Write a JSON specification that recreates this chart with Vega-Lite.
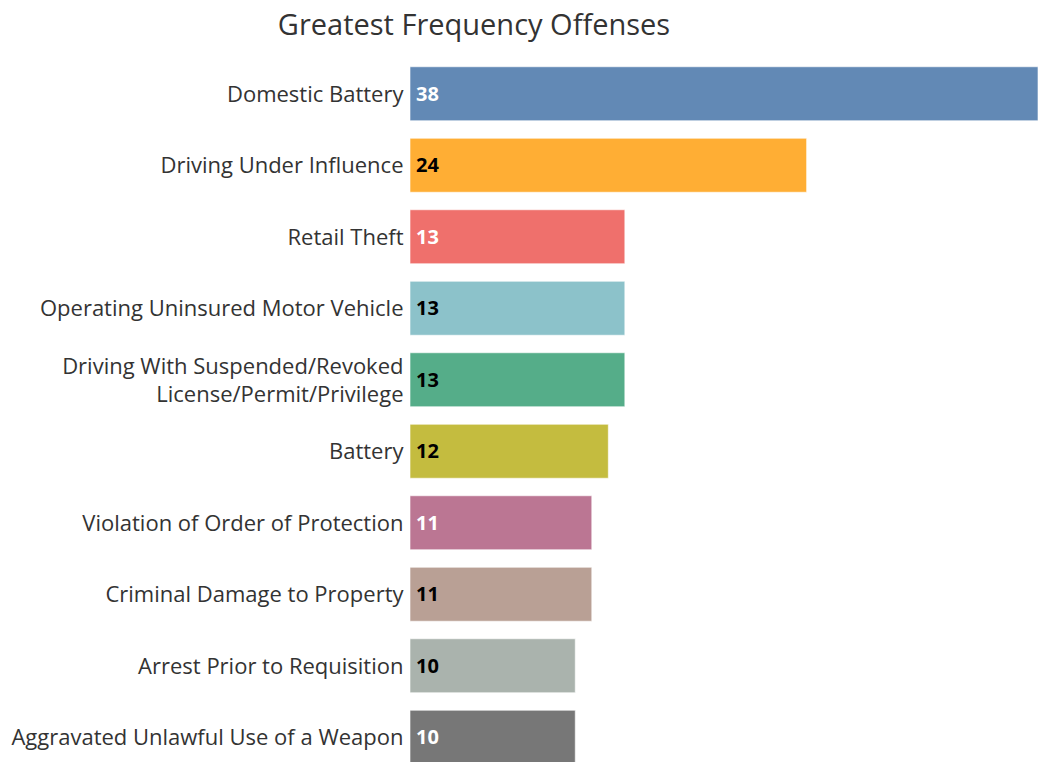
{
  "$schema": "https://vega.github.io/schema/vega-lite/v6.json",
  "autosize": {"type": "none"},
  "padding": {"left": 410, "top": 58, "right": 9, "bottom": 0},
  "width": 628,
  "height": 715,
  "background": "white",
  "title": {
    "text": "Greatest Frequency Offenses",
    "anchor": "middle",
    "dx": -250,
    "offset": 17,
    "font": "Open Sans",
    "fontSize": 29,
    "fontWeight": "normal",
    "color": "#333333"
  },
  "config": {"view": {"stroke": null}},
  "data": {
    "values": [
      {"offense": "Domestic Battery", "count": 38},
      {"offense": "Driving Under Influence", "count": 24},
      {"offense": "Retail Theft", "count": 13},
      {"offense": "Operating Uninsured Motor Vehicle", "count": 13},
      {"offense": "Driving With Suspended/Revoked License/Permit/Privilege", "count": 13},
      {"offense": "Battery", "count": 12},
      {"offense": "Violation of Order of Protection", "count": 11},
      {"offense": "Criminal Damage to Property", "count": 11},
      {"offense": "Arrest Prior to Requisition", "count": 10},
      {"offense": "Aggravated Unlawful Use of a Weapon", "count": 10}
    ]
  },
  "encoding": {
    "y": {
      "field": "offense",
      "type": "nominal",
      "sort": null,
      "scale": {"paddingInner": 0.245, "paddingOuter": 0.1225},
      "axis": {
        "title": null,
        "domain": false,
        "ticks": false,
        "labelPadding": 7,
        "labelFont": "Open Sans",
        "labelFontSize": 22,
        "labelColor": "#333333",
        "labelLimit": 500,
        "labelLineHeight": 28,
        "labelOffset": {
          "condition": {"test": "datum.value == 'Driving With Suspended/Revoked License/Permit/Privilege'", "value": -13},
          "value": 1
        },
        "labelExpr": "datum.value == 'Driving With Suspended/Revoked License/Permit/Privilege' ? ['Driving With Suspended/Revoked', 'License/Permit/Privilege'] : datum.value"
      }
    }
  },
  "layer": [
    {
      "mark": {"type": "bar", "stroke": "#ffffff", "strokeOpacity": 0.6, "strokeWidth": 1},
      "encoding": {
        "x": {"field": "count", "type": "quantitative", "scale": {"domain": [0, 38], "nice": false}, "axis": null},
        "color": {
          "field": "offense",
          "type": "nominal",
          "legend": null,
          "scale": {
            "domain": ["Domestic Battery", "Driving Under Influence", "Retail Theft", "Operating Uninsured Motor Vehicle", "Driving With Suspended/Revoked License/Permit/Privilege", "Battery", "Violation of Order of Protection", "Criminal Damage to Property", "Arrest Prior to Requisition", "Aggravated Unlawful Use of a Weapon"],
            "range": ["#6289b5", "#ffae34", "#ef706c", "#8cc2ca", "#55ad89", "#c4bc3f", "#bb7693", "#b9a095", "#aab3ad", "#777777"]
          }
        }
      }
    },
    {
      "mark": {"type": "text", "align": "left", "baseline": "middle", "dx": 6, "dy": 1, "font": "Open Sans", "fontSize": 20, "fontWeight": "bold"},
      "encoding": {
        "x": {"datum": 0, "type": "quantitative"},
        "text": {"field": "count", "type": "quantitative"},
        "color": {
          "field": "offense",
          "type": "nominal",
          "legend": null,
          "scale": {
            "domain": ["Domestic Battery", "Driving Under Influence", "Retail Theft", "Operating Uninsured Motor Vehicle", "Driving With Suspended/Revoked License/Permit/Privilege", "Battery", "Violation of Order of Protection", "Criminal Damage to Property", "Arrest Prior to Requisition", "Aggravated Unlawful Use of a Weapon"],
            "range": ["#ffffff", "#000000", "#ffffff", "#000000", "#000000", "#000000", "#ffffff", "#000000", "#000000", "#ffffff"]
          }
        }
      }
    }
  ],
  "resolve": {"scale": {"color": "independent"}}
}
